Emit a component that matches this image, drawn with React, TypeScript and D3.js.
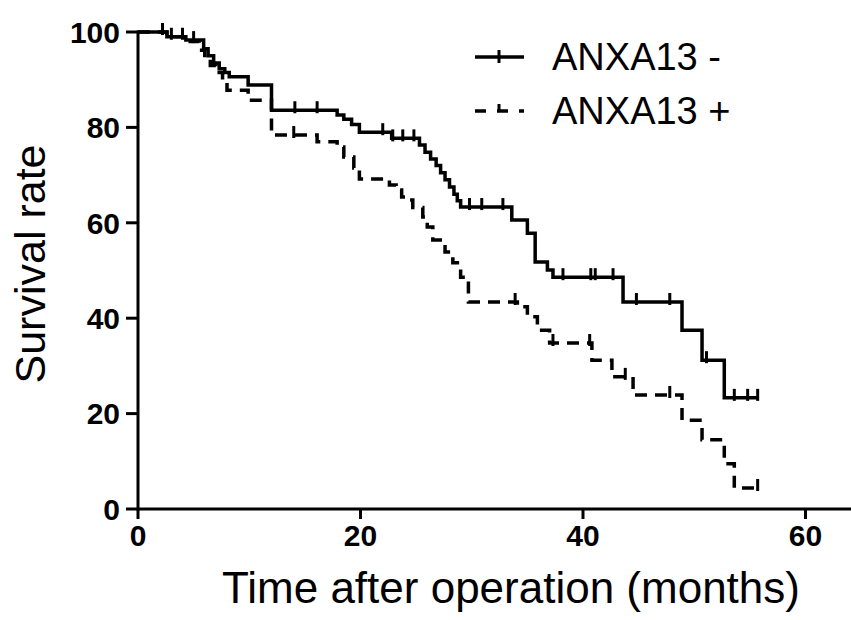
import { useEffect, useRef } from "react";
import * as d3 from "d3";

// step points: [time, survival after the drop]
const negSteps: [number, number][] = [
  [2.6, 99.0], [4.3, 98.3], [5.9, 96.5], [6.3, 95.0], [6.8, 93.5], [7.3, 92.3],
  [7.8, 91.5], [8.2, 90.6], [9.9, 88.9], [12.0, 83.6], [17.9, 82.6], [18.5, 81.7],
  [19.2, 80.6], [19.9, 79.0], [22.8, 77.7], [25.3, 76.3], [25.8, 74.8], [26.3, 73.4],
  [26.8, 72.0], [27.2, 70.5], [27.6, 69.0], [28.0, 67.5], [28.4, 66.0], [28.7, 64.6],
  [29.0, 63.3], [33.6, 60.6], [35.0, 57.8], [35.7, 51.8], [36.8, 50.1], [37.3, 48.6],
  [43.6, 43.4], [48.9, 37.5], [50.7, 31.2], [52.7, 23.3],
];
const negCensored = [
  2.2, 3.0, 4.0, 5.0, 14.1, 16.1, 22.0, 22.9, 23.8, 24.8, 29.8, 30.9, 32.8,
  38.2, 40.7, 41.1, 42.7, 44.8, 47.8, 51.1, 53.6, 54.8, 55.7,
];
const negEnd = 55.7;

const posSteps: [number, number][] = [
  [2.6, 99.0], [4.3, 98.0], [5.5, 96.2], [6.0, 94.5], [6.5, 93.0], [7.0, 91.5],
  [7.6, 89.8], [8.0, 87.8], [9.9, 85.7], [12.0, 78.4], [16.1, 77.0], [17.9, 75.9],
  [18.5, 73.8], [19.4, 71.5], [19.9, 69.2], [22.6, 67.9], [23.2, 66.9], [23.7, 65.4],
  [24.2, 64.8], [24.7, 63.2], [25.6, 61.2], [26.0, 59.1], [26.5, 56.4], [27.6, 53.9],
  [28.3, 51.6], [29.0, 48.6], [29.7, 43.4], [34.1, 42.4], [35.0, 40.3], [35.9, 37.5],
  [37.0, 34.8], [40.8, 31.2], [42.6, 27.7], [44.5, 23.9], [48.9, 18.6], [50.7, 14.5],
  [52.7, 9.5], [53.6, 4.4],
];
const posCensored = [14.0, 33.9, 37.3, 40.6, 43.8, 47.8, 55.7];
const posEnd = 55.7;

const xTicks = [0, 20, 40, 60];
const yTicks = [0, 20, 40, 60, 80, 100];
const seriesNames = ["ANXA13 -", "ANXA13 +"];

const W = 851,
  H = 620;

const App = () => {
  const ref = useRef<SVGSVGElement>(null);

  useEffect(() => {
    document.body.style.margin = "0";
    const svg = d3.select(ref.current);
    svg.selectAll("*").remove();

    const x = d3.scaleLinear().domain([0, 64]).range([138, 850]);
    const y = d3.scaleLinear().domain([0, 100]).range([509, 32]);
    const font = "'Liberation Sans', Arial, sans-serif";

    // axes
    svg
      .append("line")
      .attr("x1", x(0))
      .attr("x2", W)
      .attr("y1", y(0))
      .attr("y2", y(0))
      .attr("stroke", "#000")
      .attr("stroke-width", 3);
    svg
      .append("line")
      .attr("x1", x(0))
      .attr("x2", x(0))
      .attr("y1", y(100) - 1.5)
      .attr("y2", y(0) + 1.5)
      .attr("stroke", "#000")
      .attr("stroke-width", 3);

    const yAxisG = svg.append("g");
    yTicks.forEach((t) => {
      yAxisG
        .append("line")
        .attr("x1", x(0) - 12)
        .attr("x2", x(0))
        .attr("y1", y(t))
        .attr("y2", y(t))
        .attr("stroke", "#000")
        .attr("stroke-width", 3);
      yAxisG
        .append("text")
        .attr("x", x(0) - 18)
        .attr("y", y(t))
        .attr("dy", "0.36em")
        .attr("text-anchor", "end")
        .style("font-family", font)
        .style("font-weight", "bold")
        .style("font-size", "30px")
        .text(t);
    });

    const xAxisG = svg.append("g");
    xTicks.forEach((t) => {
      xAxisG
        .append("line")
        .attr("x1", x(t))
        .attr("x2", x(t))
        .attr("y1", y(0))
        .attr("y2", y(0) + 10)
        .attr("stroke", "#000")
        .attr("stroke-width", 3);
      xAxisG
        .append("text")
        .attr("x", x(t))
        .attr("y", y(0) + 26)
        .attr("dy", "0.36em")
        .attr("text-anchor", "middle")
        .style("font-family", font)
        .style("font-weight", "bold")
        .style("font-size", "30px")
        .text(t);
    });

    svg
      .append("text")
      .attr("x", 511)
      .attr("y", 603)
      .attr("text-anchor", "middle")
      .style("font-family", font)
      .style("font-size", "44px")
      .text("Time after operation (months)");

    svg
      .append("text")
      .attr("transform", `translate(45, 264) rotate(-90)`)
      .attr("text-anchor", "middle")
      .style("font-family", font)
      .style("font-size", "43px")
      .text("Survival rate");

    const survAt = (steps: [number, number][], t: number) => {
      let v = 100;
      steps.forEach((s) => {
        if (s[0] <= t) v = s[1];
      });
      return v;
    };

    const drawCurve = (
      steps: [number, number][],
      end: number,
      censored: number[],
      dash: string | null
    ) => {
      const pts: [number, number][] = [[0, 100]];
      let prev = 100;
      steps.forEach(([t, v]) => {
        pts.push([t, prev]);
        pts.push([t, v]);
        prev = v;
      });
      pts.push([end, prev]);
      const line = d3
        .line<[number, number]>()
        .x((d) => x(d[0]))
        .y((d) => y(d[1]));
      const p = svg
        .append("path")
        .attr("d", line(pts) as string)
        .attr("fill", "none")
        .attr("stroke", "#000")
        .attr("stroke-width", 3.5);
      if (dash) p.attr("stroke-dasharray", dash);
      const g = svg.append("g");
      censored.forEach((c) => {
        const v = survAt(steps, c);
        g.append("line")
          .attr("x1", x(c))
          .attr("x2", x(c))
          .attr("y1", y(v) - 9)
          .attr("y2", y(v) + 3)
          .attr("stroke", "#000")
          .attr("stroke-width", 3);
      });
    };

    drawCurve(negSteps, negEnd, negCensored, null);
    drawCurve(posSteps, posEnd, posCensored, "12,8");

    // legend
    const leg = svg.append("g");
    seriesNames.forEach((name, i) => {
      const ly = 57 + i * 54;
      const l = leg
        .append("line")
        .attr("x1", 475)
        .attr("x2", 524)
        .attr("y1", ly)
        .attr("y2", ly)
        .attr("stroke", "#000")
        .attr("stroke-width", 3.5);
      if (i === 1) l.attr("stroke-dasharray", "11,11");
      leg
        .append("line")
        .attr("x1", 499)
        .attr("x2", 499)
        .attr("y1", ly - 7)
        .attr("y2", ly + (i === 1 ? 0 : 6))
        .attr("stroke", "#000")
        .attr("stroke-width", 3);
      leg
        .append("text")
        .attr("x", 552)
        .attr("y", ly + 13)
        .style("font-family", font)
        .style("font-size", "38px")
        .text(name);
    });
  }, []);

  return <svg ref={ref} width={W} height={H} style={{ display: "block" }} />;
};

export default App;
